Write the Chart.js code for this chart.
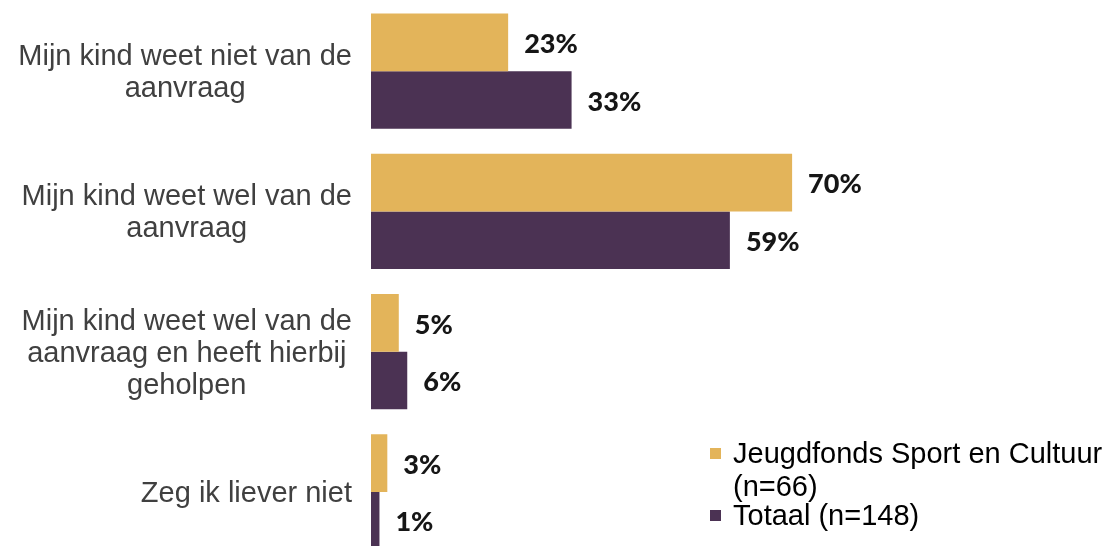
<!DOCTYPE html>
<html>
<head>
<meta charset="utf-8">
<script src="https://cdn.jsdelivr.net/npm/chart.js@4.4.0/dist/chart.umd.min.js"></script>
<style>
  html, body { margin: 0; padding: 0; background: #fff; overflow: hidden; }
  #wrap { position: relative; width: 1108px; height: 562px; }
</style>
</head>
<body>
<div id="wrap"><canvas id="chart"></canvas></div>
<script>
const categories = [
    ['Mijn kind weet niet van de', 'aanvraag'],
    ['Mijn kind weet wel van de', 'aanvraag'],
    ['Mijn kind weet wel van de', 'aanvraag en heeft hierbij', 'geholpen'],
    ['Zeg ik liever niet']
];
const seriesNames = ['Jeugdfonds Sport en Cultuur (n=66)', 'Totaal (n=148)'];
const jeugdfonds = [22.7, 69.7, 4.6, 2.7];
const totaal = [33.2, 59.4, 6.0, 1.4];
const colors = ['#E3B45A', '#4B3253'];

const labelFont = '29px "Liberation Sans", Arial, sans-serif';

// category labels: block right-aligned, lines centred inside the block
const categoryLabels = {
    id: 'categoryLabels',
    afterDraw(chart) {
        const ctx = chart.ctx;
        const y = chart.scales.y;
        const right = chart.chartArea.left - 19;
        ctx.save();
        ctx.font = labelFont;
        ctx.fillStyle = '#404040';
        ctx.textAlign = 'center';
        ctx.textBaseline = 'middle';
        categories.forEach((lines, i) => {
            const widest = Math.max(...lines.map(l => ctx.measureText(l).width));
            const cx = right - widest / 2;
            const cy = y.getPixelForValue(i) + 2;
            lines.forEach((l, j) => {
                ctx.fillText(l, cx, cy + (j - (lines.length - 1) / 2) * 32);
            });
        });
        ctx.restore();
    }
};

// percentage labels next to each bar
const valueLabels = {
    id: 'valueLabels',
    afterDatasetsDraw(chart) {
        const ctx = chart.ctx;
        ctx.save();
        ctx.font = '900 27px Lato, "DejaVu Sans", sans-serif';
        ctx.fillStyle = '#161616';
        ctx.textAlign = 'left';
        ctx.textBaseline = 'middle';
        chart.data.datasets.forEach((ds, di) => {
            chart.getDatasetMeta(di).data.forEach((bar, i) => {
                ctx.fillText(Math.round(ds.data[i]) + '%', bar.x + 16, bar.y + 2);
            });
        });
        ctx.restore();
    }
};

// legend in the lower right corner, wrapped text with hanging indent
const cornerLegend = {
    id: 'cornerLegend',
    afterDraw(chart) {
        const ctx = chart.ctx;
        const textX = 733, maxW = 1108 - textX;
        let baseline = 463;
        ctx.save();
        ctx.font = labelFont;
        ctx.textAlign = 'left';
        ctx.textBaseline = 'alphabetic';
        chart.data.datasets.forEach(ds => {
            ctx.fillStyle = ds.backgroundColor;
            ctx.fillRect(710, baseline - 15, 11, 11);
            const words = ds.label.split(' ');
            let line = '';
            const lines = [];
            words.forEach(w => {
                const test = line ? line + ' ' + w : w;
                if (ctx.measureText(test).width > maxW && line) {
                    lines.push(line);
                    line = w;
                } else {
                    line = test;
                }
            });
            lines.push(line);
            ctx.fillStyle = '#000';
            lines.forEach((l, k) => {
                ctx.fillText(l, textX, baseline);
                baseline += k < lines.length - 1 ? 33 : 29;
            });
        });
        ctx.restore();
    }
};

new Chart(document.getElementById('chart'), {
    type: 'bar',
    data: {
        labels: categories,
        datasets: [
            { label: seriesNames[0], data: jeugdfonds, backgroundColor: colors[0] },
            { label: seriesNames[1], data: totaal, backgroundColor: colors[1] }
        ]
    },
    options: {
        indexAxis: 'y',
        responsive: true,
        maintainAspectRatio: false,
        animation: false,
        layout: { padding: { top: 1, right: 12, bottom: 0, left: 0 } },
        datasets: {
            bar: { categoryPercentage: 0.82, barPercentage: 1 }
        },
        scales: {
            x: { display: false, min: 0, max: 120 },
            y: {
                grid: { display: false, drawTicks: false },
                border: { display: false },
                ticks: { display: false },
                afterFit: s => { s.width = 371; }
            }
        },
        plugins: {
            legend: { display: false },
            tooltip: { enabled: false }
        }
    },
    plugins: [categoryLabels, valueLabels, cornerLegend]
});
</script>
</body>
</html>
